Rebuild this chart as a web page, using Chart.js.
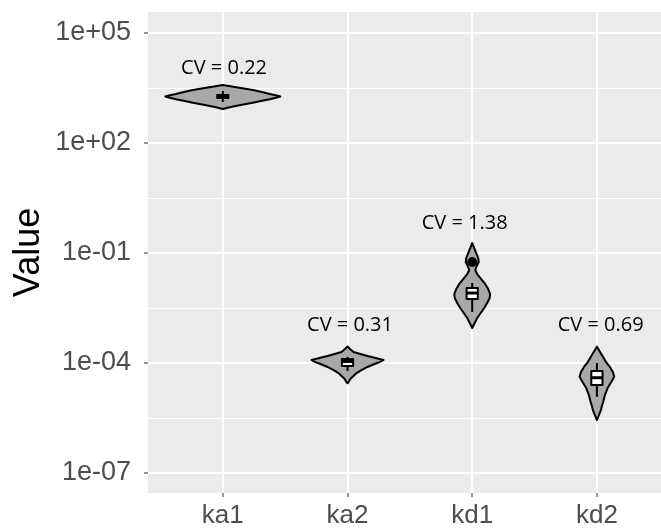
<!DOCTYPE html>
<html>
<head>
<meta charset="utf-8">
<script src="https://cdn.jsdelivr.net/npm/chart.js@4"></script>
<style>
  html, body { margin: 0; background: #fff; overflow: hidden; }
  #wrap { width: 661px; height: 530px; }
  canvas { display: block; }
</style>
</head>
<body>
<div id="wrap"><canvas id="violinChart" width="661" height="530"></canvas></div>
<script>
const categories = ['ka1', 'ka2', 'kd1', 'kd2'];

// log axis: labelled decades plus the half-decade lines between them
const yTickValues = [1e-7, 1e-4, 1e-1, 1e2, 1e5];
const yTickLabels = ['1e-07', '1e-04', '1e-01', '1e+02', '1e+05'];
const yMinorValues = [3.162e-6, 3.162e-3, 3.162, 3162];

// violin outlines: sample values (top to bottom) and half-width in category units
const ka1Values = [3820, 3589, 3162, 2786, 2460, 2168, 1972, 1854, 1742, 1556, 1396, 1256, 1086, 959, 845];
const ka1Widths = [0, 0.048, 0.144, 0.241, 0.313, 0.377, 0.433, 0.461, 0.433, 0.377, 0.305, 0.241, 0.144, 0.064, 0];

const ka2Values = [2.82e-4, 2.41e-4, 2.0e-4, 1.76e-4, 1.55e-4, 1.37e-4, 1.21e-4, 1.06e-4, 9.4e-5, 7.8e-5, 6.4e-5, 5.3e-5, 4.4e-5, 3.7e-5, 3.0e-5, 2.8e-5];
const ka2Widths = [0, 0.020, 0.048, 0.104, 0.160, 0.225, 0.289, 0.257, 0.217, 0.160, 0.112, 0.072, 0.048, 0.024, 0.008, 0];

const kd1Values = [0.1875, 0.1368, 0.1, 0.0731, 0.0569, 0.0442, 0.0344, 0.0267, 0.0195, 0.0143, 0.0104, 0.00762, 0.00593, 0.00433, 0.00316, 0.00231, 0.00169, 0.00123, 0.0009];
const kd1Widths = [0, 0.016, 0.032, 0.048, 0.052, 0.036, 0.024, 0.040, 0.072, 0.104, 0.128, 0.144, 0.140, 0.120, 0.096, 0.068, 0.040, 0.020, 0];

const kd2Values = [2.79e-4, 2.26e-4, 1.65e-4, 1.08e-4, 7.8e-5, 5.7e-5, 4.23e-5, 3.23e-5, 2.08e-5, 1.34e-5, 8.8e-6, 6.7e-6, 5.2e-6, 3.8e-6, 2.79e-6];
const kd2Widths = [0, 0.016, 0.040, 0.072, 0.104, 0.128, 0.139, 0.120, 0.086, 0.064, 0.051, 0.040, 0.032, 0.016, 0];

// boxplot stats per category
const boxLow  = [1312, 6.1e-5, 0.00246, 1.21e-5];
const boxQ1   = [1687, 8.3e-5, 0.00556, 2.51e-5];
const boxMed  = [1854, 1.10e-4, 0.0081, 3.97e-5];
const boxQ3   = [2037, 1.29e-4, 0.0111, 6.05e-5];
const boxHigh = [2618, 1.46e-4, 0.0152, 1.0e-4];

const kd1Outliers = [0.0569];

// coefficient of variation labels
const cvValues = [0.22, 0.31, 1.38, 0.69];
const cvLabelX = [0.01, 1.02, 1.94, 3.03];
const cvLabelY = [1.08e4, 1.09e-3, 0.64, 1.09e-3];

const violinValues = [ka1Values, ka2Values, kd1Values, kd2Values];
const violinWidths = [ka1Widths, ka2Widths, kd1Widths, kd2Widths];

const isMajor = v => yTickValues.indexOf(v) !== -1;

// grey panel behind the grid
const panelPlugin = {
    id: 'panel',
    beforeDraw(chart) {
        const { ctx, chartArea: a } = chart;
        ctx.save();
        ctx.fillStyle = '#fff';
        ctx.fillRect(0, 0, chart.width, chart.height);
        ctx.fillStyle = '#EBEBEB';
        ctx.fillRect(a.left, a.top, a.right - a.left, a.bottom - a.top);
        ctx.restore();
    }
};

// violins + boxplots, drawn before the outlier points
const violinPlugin = {
    id: 'violins',
    beforeDatasetsDraw(chart) {
        const { ctx, scales: { x, y } } = chart;
        ctx.save();
        violinValues.forEach((vals, i) => {
            const w = violinWidths[i];
            ctx.beginPath();
            vals.forEach((v, j) => {
                const px = x.getPixelForValue(i - w[j]);
                const py = y.getPixelForValue(v);
                if (j === 0) ctx.moveTo(px, py); else ctx.lineTo(px, py);
            });
            for (let j = vals.length - 1; j >= 0; j--) {
                ctx.lineTo(x.getPixelForValue(i + w[j]), y.getPixelForValue(vals[j]));
            }
            ctx.closePath();
            ctx.fillStyle = '#A8A8A8';
            ctx.fill();
            ctx.lineWidth = 2;
            ctx.lineJoin = 'round';
            ctx.strokeStyle = '#000';
            ctx.stroke();
        });

        const half = 0.045;
        categories.forEach((c, i) => {
            const cx = x.getPixelForValue(i);
            const l = x.getPixelForValue(i - half);
            const r = x.getPixelForValue(i + half);
            const q1 = y.getPixelForValue(boxQ1[i]);
            const q3 = y.getPixelForValue(boxQ3[i]);
            ctx.strokeStyle = '#000';
            ctx.lineWidth = 2;
            ctx.beginPath();
            ctx.moveTo(cx, y.getPixelForValue(boxHigh[i]));
            ctx.lineTo(cx, q3);
            ctx.moveTo(cx, q1);
            ctx.lineTo(cx, y.getPixelForValue(boxLow[i]));
            ctx.stroke();
            ctx.fillStyle = '#fff';
            ctx.fillRect(l, q3, r - l, q1 - q3);
            ctx.strokeRect(l, q3, r - l, q1 - q3);
            ctx.lineWidth = 3;
            ctx.beginPath();
            const m = y.getPixelForValue(boxMed[i]);
            ctx.moveTo(l, m);
            ctx.lineTo(r, m);
            ctx.stroke();
        });
        ctx.restore();
    },
    afterDatasetsDraw(chart) {
        const { ctx, scales: { x, y } } = chart;
        ctx.save();
        ctx.font = '20px "Open Sans"';
        ctx.fillStyle = '#000';
        ctx.textAlign = 'center';
        ctx.textBaseline = 'middle';
        cvValues.forEach((cv, i) => {
            ctx.fillText('CV = ' + cv.toFixed(2), x.getPixelForValue(cvLabelX[i]), y.getPixelForValue(cvLabelY[i]));
        });
        ctx.restore();
    }
};

new Chart(document.getElementById('violinChart'), {
    type: 'scatter',
    data: {
        datasets: [{
            data: kd1Outliers.map(v => ({ x: 2, y: v })),
            backgroundColor: '#000',
            borderColor: '#000',
            pointRadius: 4.5,
            pointHoverRadius: 4.5
        }]
    },
    options: {
        responsive: false,
        animation: false,
        devicePixelRatio: 1,
        events: [],
        layout: { autoPadding: false, padding: { top: 12, left: 0, right: 0, bottom: 0 } },
        scales: {
            x: {
                type: 'linear',
                min: -0.6,
                max: 3.514,
                afterBuildTicks: s => { s.ticks = categories.map((c, i) => ({ value: i })); },
                afterFit: s => { s.height = 37; s.paddingLeft = 0; s.paddingRight = 0; },
                ticks: {
                    callback: v => categories[v],
                    font: { family: 'Liberation Sans', size: 26 },
                    color: '#4D4D4D',
                    padding: 3,
                    autoSkip: false,
                    maxRotation: 0
                },
                grid: { color: '#fff', lineWidth: 2, tickColor: '#333', tickLength: 4, tickWidth: 1 },
                border: { display: false }
            },
            y: {
                type: 'logarithmic',
                min: 2.85e-8,
                max: 3.74e5,
                afterBuildTicks: s => {
                    s.ticks = yTickValues.concat(yMinorValues).sort((a, b) => a - b).map(v => ({ value: v }));
                },
                afterFit: s => { s.width = 148; s.paddingTop = 0; s.paddingBottom = 0; },
                ticks: {
                    callback: v => isMajor(v) ? yTickLabels[yTickValues.indexOf(v)] : '',
                    font: { family: 'Liberation Sans', size: 27 },
                    color: '#4D4D4D',
                    padding: 13,
                    autoSkip: false
                },
                grid: {
                    color: '#fff',
                    lineWidth: ctx => isMajor(ctx.tick.value) ? 2 : 1,
                    tickColor: ctx => isMajor(ctx.tick.value) ? '#333' : 'rgba(0,0,0,0)',
                    tickLength: 4,
                    tickWidth: 1
                },
                border: { display: false },
                title: {
                    display: true,
                    text: 'Value',
                    font: { family: 'Liberation Sans', size: 36, lineHeight: 1.2 },
                    color: '#000',
                    padding: { top: 7, bottom: 0 }
                }
            }
        },
        plugins: {
            legend: { display: false },
            tooltip: { enabled: false }
        }
    },
    plugins: [panelPlugin, violinPlugin]
});
</script>
</body>
</html>
